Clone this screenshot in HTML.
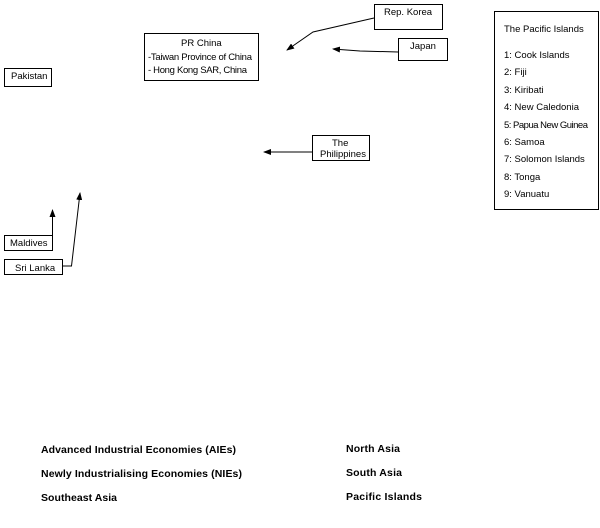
<!DOCTYPE html>
<html><head><meta charset="utf-8"><style>
html,body{margin:0;padding:0;background:#fff;}
svg{display:block;font-family:"Liberation Sans",Arial,sans-serif;}
</style></head><body>
<svg width="600" height="528" viewBox="0 0 600 528" xmlns="http://www.w3.org/2000/svg">
<defs><marker id="a" markerWidth="8" markerHeight="6" refX="7" refY="3" orient="auto" markerUnits="userSpaceOnUse"><path d="M8,3 L0,0 L0,6 Z" fill="#000"/></marker></defs>
<g fill="#fff" stroke="#000" stroke-width="1">
<rect x="374.5" y="4.5" width="68" height="25"/>
<rect x="144.5" y="33.5" width="114" height="47"/>
<rect x="4.5" y="68.5" width="47" height="18"/>
<rect x="398.5" y="38.5" width="49" height="22"/>
<rect x="312.5" y="135.5" width="57" height="25"/>
<rect x="4.5" y="235.5" width="48" height="15"/>
<rect x="4.5" y="259.5" width="58" height="15"/>
<rect x="494.5" y="11.5" width="104" height="198"/>
</g>
<g fill="none" stroke="#000" stroke-width="1">
<polyline points="374,18 313,32 287,50" marker-end="url(#a)"/>
<polyline points="398,52 360,51 333,49" marker-end="url(#a)"/>
<polyline points="312,152 264,152" marker-end="url(#a)"/>
<polyline points="52.5,243 52.5,210" marker-end="url(#a)"/>
<polyline points="62,266 71.5,266 80,193" marker-end="url(#a)"/>
</g>
<g font-size="9.5" fill="#000">
<text x="384" y="15">Rep. Korea</text>
<text x="181" y="46">PR China</text>
<text x="148" y="60" textLength="104">-Taiwan Province of China</text>
<text x="148" y="73" textLength="99">- Hong Kong SAR, China</text>
<text x="11" y="79">Pakistan</text>
<text x="410" y="49">Japan</text>
<text x="332" y="146">The</text>
<text x="320" y="157">Philippines</text>
<text x="10" y="246">Maldives</text>
<text x="15" y="271">Sri Lanka</text>
<text x="504" y="32">The Pacific Islands</text>
<text x="504" y="58">1: Cook Islands</text>
<text x="504" y="75">2: Fiji</text>
<text x="504" y="93">3: Kiribati</text>
<text x="504" y="110">4: New Caledonia</text>
<text x="504" y="128" textLength="84">5: Papua New Guinea</text>
<text x="504" y="145">6: Samoa</text>
<text x="504" y="162">7: Solomon Islands</text>
<text x="504" y="180">8: Tonga</text>
<text x="504" y="197">9: Vanuatu</text>
</g>
<g font-size="10.5" font-weight="bold" fill="#000">
<text x="41" y="453" textLength="195">Advanced Industrial Economies (AIEs)</text>
<text x="41" y="477" textLength="201">Newly Industrialising Economies (NIEs)</text>
<text x="41" y="501" textLength="76">Southeast Asia</text>
<text x="346" y="452" textLength="54">North Asia</text>
<text x="346" y="476" textLength="56">South Asia</text>
<text x="346" y="500" textLength="76">Pacific Islands</text>
</g>
</svg>
</body></html>
